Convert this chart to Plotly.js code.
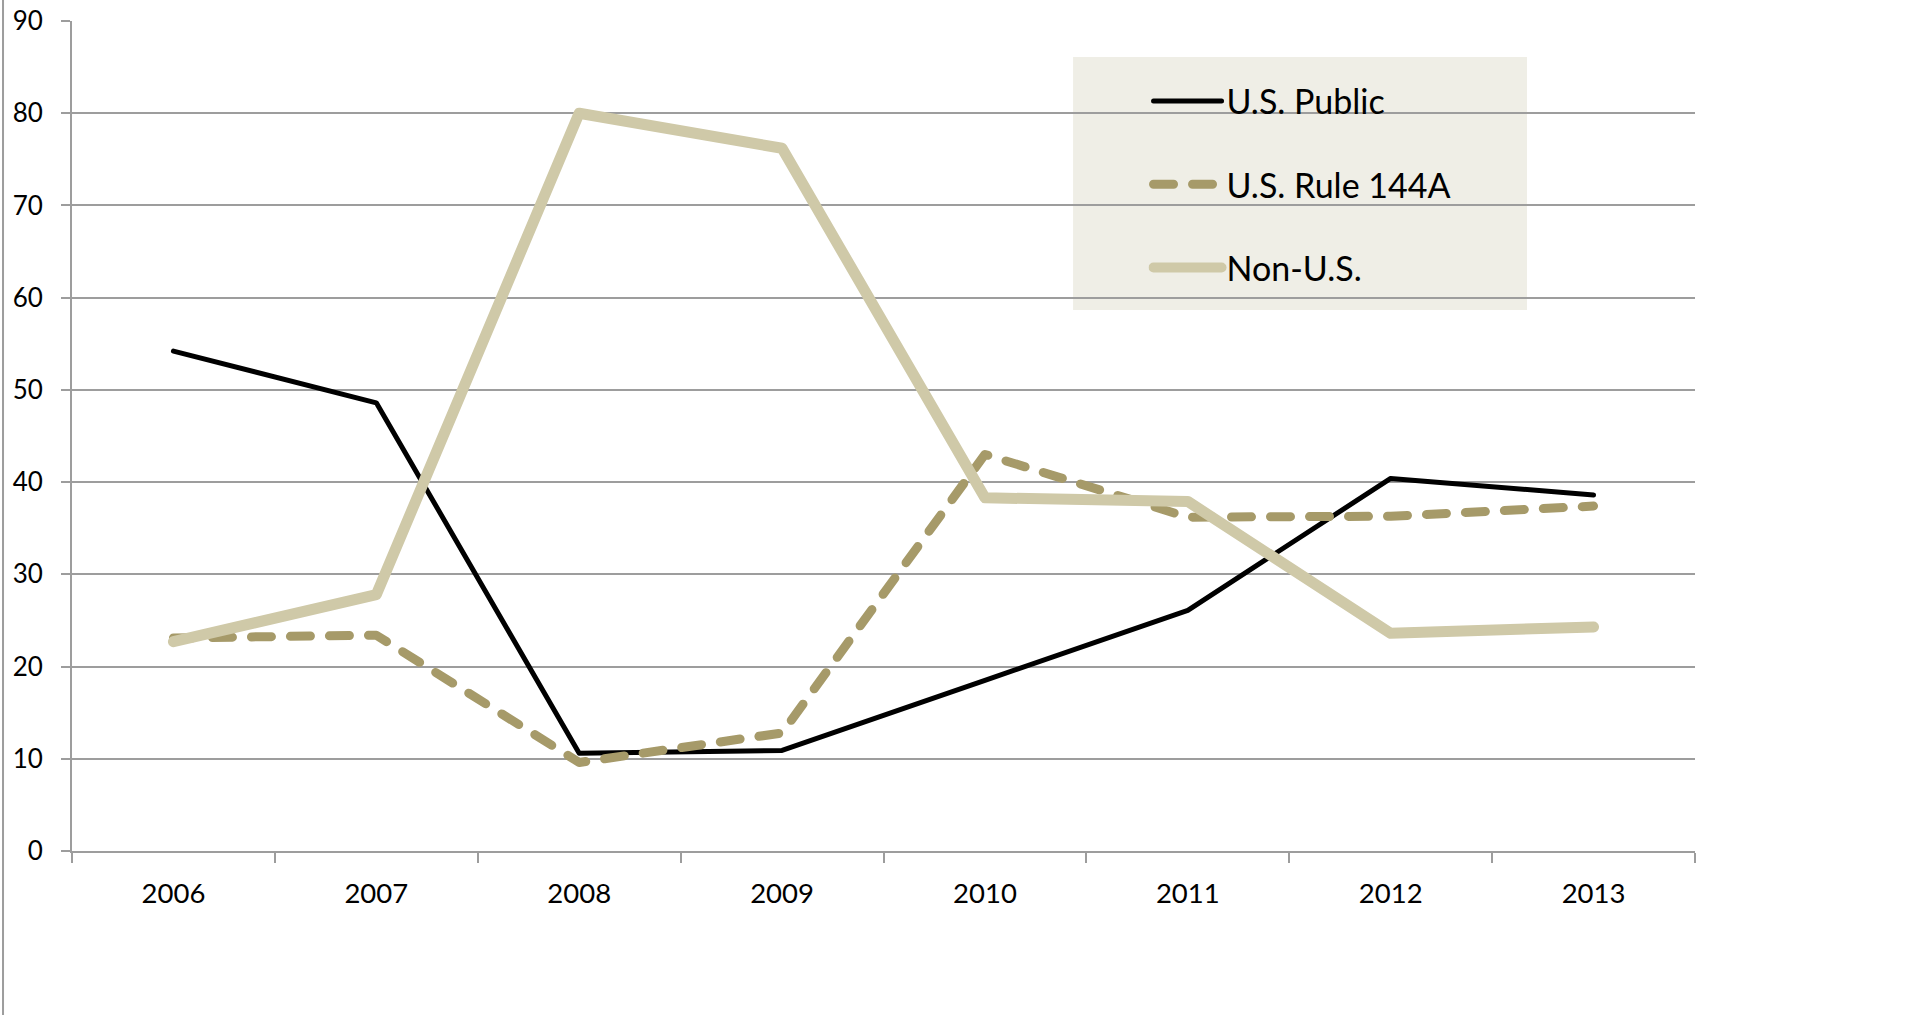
<!DOCTYPE html>
<html>
<head>
<meta charset="utf-8">
<script src="https://cdn.plot.ly/plotly-3.0.1.min.js"></script>
<style>
  html, body { margin: 0; padding: 0; background: #ffffff; }
  #chart { width: 1915px; height: 1015px; }
  /* rounded ends on the series strokes and legend samples */
  .scatterlayer .js-line, .legend .js-line { stroke-linecap: round; stroke-linejoin: round; }
</style>
</head>
<body>
<div id="chart"></div>
<script>
// Issuance by market, 2006–2013
const years = ['2006', '2007', '2008', '2009', '2010', '2011', '2012', '2013'];
const usPublic = [54.2, 48.6, 10.6, 10.9, 18.5, 26.1, 40.4, 38.6];
const usRule144A = [23.1, 23.4, 9.6, 12.8, 43.0, 36.2, 36.3, 37.4];
const nonUS = [22.7, 27.8, 80.0, 76.2, 38.3, 37.9, 23.6, 24.3];
const seriesNames = ['U.S. Public', 'U.S. Rule 144A', 'Non-U.S.'];
const yTicks = [0, 10, 20, 30, 40, 50, 60, 70, 80, 90];

const FONT = 'Lato, "Open Sans", sans-serif';
const GRID = '#9d9d9d';

const traces = [
  {
    x: years, y: usPublic, name: seriesNames[0], type: 'scatter', mode: 'lines',
    legendgroup: 'a',
    line: { color: '#000000', width: 5 }
  },
  {
    x: years, y: usRule144A, name: seriesNames[1], type: 'scatter', mode: 'lines',
    legendgroup: 'b',
    line: { color: '#a69a69', width: 9, dash: '20px,19px' }
  },
  {
    x: years, y: nonUS, name: seriesNames[2], type: 'scatter', mode: 'lines',
    legendgroup: 'c',
    line: { color: '#cfc9a8', width: 11 }
  }
];

const layout = {
  width: 1915,
  height: 1015,
  margin: { l: 72, r: 220, t: 21, b: 164, pad: 0 },
  paper_bgcolor: '#ffffff',
  plot_bgcolor: '#ffffff',
  font: { family: FONT, color: '#000000' },
  showlegend: true,
  legend: {
    x: 0.6633, xanchor: 'left',
    y: 0.938, yanchor: 'top',
    bgcolor: 'rgba(0,0,0,0)',
    borderwidth: 0,
    font: { family: FONT, size: 34, color: '#000000' },
    itemwidth: 68,
    tracegroupgap: 36,
    traceorder: 'grouped'
  },
  xaxis: {
    type: 'category',
    categoryorder: 'array',
    categoryarray: years,
    range: [-0.5, years.length - 0.5],
    showgrid: false,
    showline: true,
    linecolor: GRID,
    linewidth: 2,
    ticks: 'outside',
    tickson: 'boundaries',
    ticklen: 10,
    tickwidth: 2,
    tickcolor: GRID,
    tickfont: { family: FONT, size: 27.5, color: '#000000' },
    ticklabelstandoff: 17,
    zeroline: false,
    fixedrange: true
  },
  yaxis: {
    range: [0, 90],
    tickmode: 'array',
    tickvals: yTicks,
    ticktext: yTicks.map(String),
    showgrid: true,
    gridcolor: GRID,
    gridwidth: 2,
    showline: true,
    linecolor: GRID,
    linewidth: 2,
    ticks: 'outside',
    ticklen: 9,
    tickwidth: 2,
    tickcolor: GRID,
    tickfont: { family: FONT, size: 26, color: '#000000' },
    ticklabelstandoff: 13,
    zeroline: false,
    fixedrange: true
  },
  shapes: [
    // legend panel
    {
      type: 'rect', xref: 'paper', yref: 'paper', layer: 'between',
      x0: 0.6168, x1: 0.8965, y0: 0.6518, y1: 0.9566,
      fillcolor: '#efeee6', line: { width: 0 }
    },
    // left edge of the chart frame
    {
      type: 'line', xref: 'paper', yref: 'paper', layer: 'above',
      x0: -0.0425, x1: -0.0425, y0: -0.2, y1: 1.03,
      line: { color: GRID, width: 2 }
    }
  ]
};

Plotly.newPlot('chart', traces, layout, { displayModeBar: false, staticPlot: true });
</script>
</body>
</html>
